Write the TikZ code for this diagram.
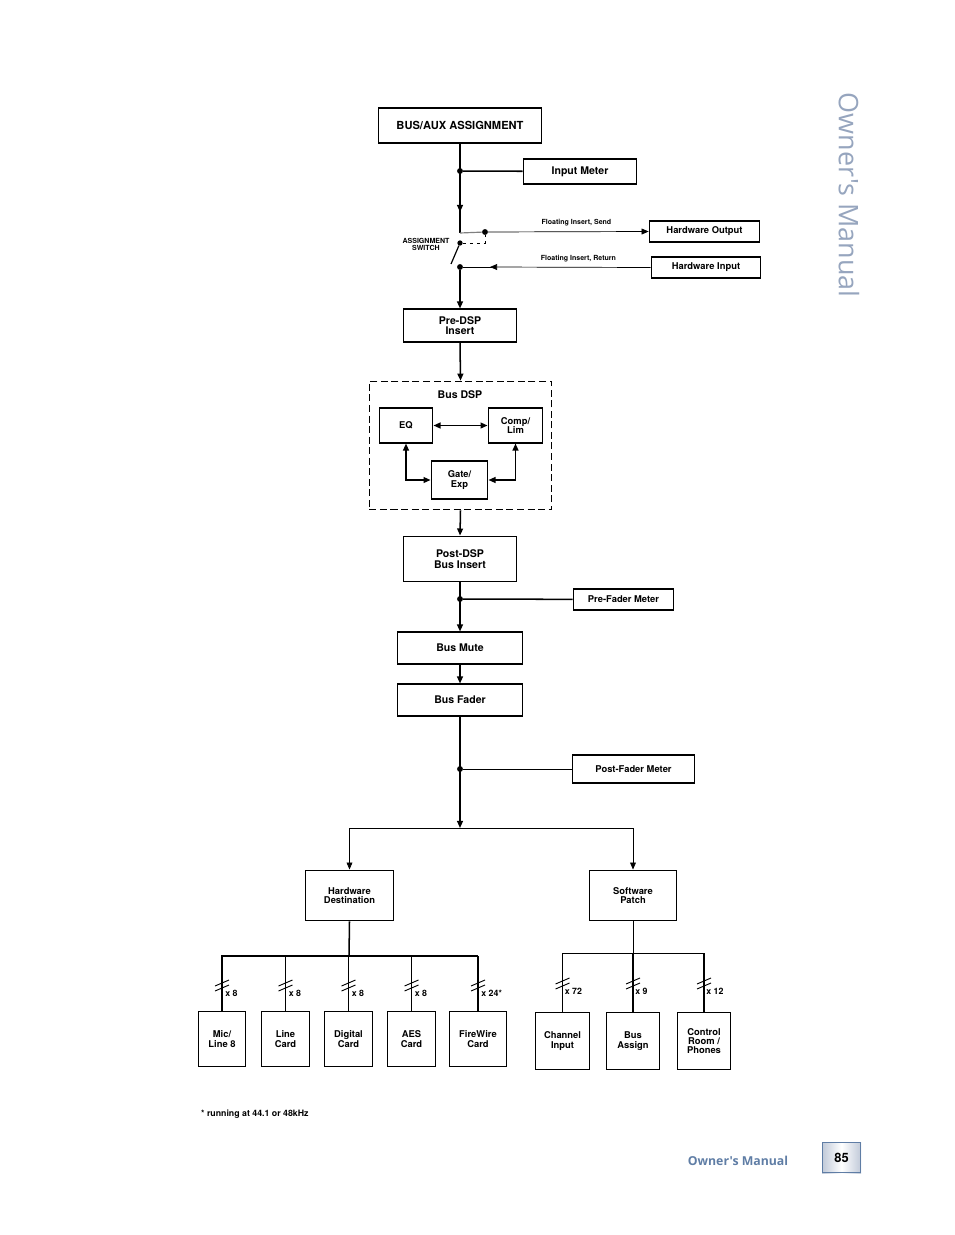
\documentclass[tikz,border=0pt]{standalone}
\usepackage{fontspec}
\setmainfont{TeX Gyre Heros}
\newfontfamily\manualfont{Open Sans}
\usetikzlibrary{arrows.meta,positioning,calc}
\definecolor{manualblue}{RGB}{150,165,190}
\definecolor{footblue}{RGB}{95,125,165}
\tikzset{
	>={Triangle[length=6pt,width=5pt]},
	box/.style={draw, line width=1pt, align=center, font=\bfseries\fontsize{#1}{#1}\selectfont,
			inner sep=0pt, minimum height=20pt},
	box/.default=8,
	wire/.style={line width=1.3pt},
	thin wire/.style={line width=0.6pt},
	dot/.style={circle, fill, inner sep=0pt, minimum size=5pt},
	lbl/.style={font=\bfseries\fontsize{6}{6}\selectfont},
	cnt/.style={font=\bfseries\fontsize{7.5}{7.5}\selectfont, anchor=west, inner sep=1pt}
}
\newcommand{\hashmark}[1]{%
	\draw[line width=0.8pt] ($(#1)+(-7,3)$) -- ($(#1)+(7,-3)$);
	\draw[line width=0.8pt] ($(#1)+(-7,8)$) -- ($(#1)+(7,2)$);}
\begin{document}
\begin{tikzpicture}[x=0.03cm,y=-0.03cm]
	\useasboundingbox (0,0) rectangle (954,1235);

	% top section
	\node[box=9.5, minimum width=164*0.85pt, minimum height=35*0.85pt] (busaux) at (460,125.5) {BUS/AUX ASSIGNMENT};
	\node[box=9, minimum width=114*0.85pt, minimum height=25*0.85pt] (inmeter) at (580,171.5) {Input Meter};
	\node[dot] (d1) at (460,171) {};
	\draw[wire] (d1) -- (inmeter);
	\coordinate (swtop) at (460,233);
	\draw[wire,->] (busaux.south) -- (460,212);
	\draw[wire] (460,205) -- (swtop);

	% assignment switch
	\node[dot] (send) at (485,232) {};
	\node[dot, minimum size=4.5pt] (pivot) at (460,243) {};
	\node[dot] (ret) at (460,267) {};
	\draw[line width=1pt, gray] (swtop) -- (send);
	\draw[line width=0.8pt, dashed] (pivot) -- (485,243) -- (send);
	\draw[line width=1pt] (pivot) -- (451,264);
	\node[lbl, align=center] (swlbl) at (426,244) {ASSIGNMENT\\SWITCH};
	\node[box=8, minimum width=111*0.85pt, minimum height=21*0.85pt] (hwout) at (704.5,231.5) {Hardware Output};
	\node[box=8, minimum width=110*0.85pt, minimum height=21*0.85pt] (hwin) at (706,267.5) {Hardware Input};
	\draw[thin wire,->] (send) -- (hwout.west) node[lbl, pos=0.55, above=1pt] {Floating Insert, Send};
	\draw[thin wire,->] (hwin.west) -- (490,267) node[lbl, pos=0.45, above=1pt] {Floating Insert, Return};
	\draw[thin wire] (492,267) -- (ret);

	% inserts and dsp
	\node[box=9, minimum width=114*0.85pt, minimum height=33*0.85pt] (predsp) at (460,325.5) {Pre-DSP\\Insert};
	\draw[wire,->] (ret) -- (predsp.north);
	\node[draw, line width=1pt, dash pattern=on 6pt off 3pt, minimum width=183*0.85pt, minimum height=129*0.85pt] (dsp) at (460.5,445.5) {};
	\node[font=\bfseries\fontsize{9}{9}\selectfont] at (460,395) {Bus DSP};
	\draw[wire,->] (predsp.south) -- (dsp.north);
	\node[box=8, minimum width=54*0.85pt, minimum height=35*0.85pt] (eq) at (406,425.5) {EQ};
	\node[box=8, minimum width=55*0.85pt, minimum height=35*0.85pt] (comp) at (515.5,425.5) {Comp/\\Lim};
	\node[box=8, minimum width=57*0.85pt, minimum height=38*0.85pt] (gate) at (459.5,480) {Gate/\\Exp};
	\draw[wire,<->] (eq) -- (comp);
	\draw[wire,<->] (eq.south) |- (gate.west);
	\draw[wire,<->] (comp.south) |- (gate.east);

	\node[box=9, minimum width=114*0.85pt, minimum height=46*0.85pt] (postdsp) at (460,559) {Post-DSP\\Bus Insert};
	\draw[wire,->] (dsp.south) -- (postdsp.north);
	\node[box=8, minimum width=101*0.85pt, minimum height=21*0.85pt] (premeter) at (623.5,599.5) {Pre-Fader Meter};
	\node[dot] (d2) at (460,599) {};
	\draw[wire] (d2) -- (premeter);
	\node[box=9, minimum width=126*0.85pt, minimum height=32*0.85pt] (mute) at (460,648) {Bus Mute};
	\node[box=9, minimum width=126*0.85pt, minimum height=32*0.85pt] (fader) at (460,700) {Bus Fader};
	\draw[wire,->] (postdsp.south) -- (mute.north);
	\draw[wire,->] (mute.south) -- (fader.north);
	\node[box=8, minimum width=123*0.85pt, minimum height=28*0.85pt] (postmeter) at (633.5,769) {Post-Fader Meter};
	\node[dot] (d3) at (460,769) {};
	\draw[thin wire] (d3) -- (postmeter);
	\coordinate (split) at (460,828);
	\draw[wire,->] (fader.south) -- (split);

	% destinations
	\node[box=8, minimum width=89*0.85pt, minimum height=51*0.85pt] (hwdest) at (349.5,895.5) {Hardware\\Destination};
	\node[box=8, minimum width=88*0.85pt, minimum height=51*0.85pt] (swpatch) at (633,895.5) {Software\\Patch};
	\draw[thin wire,->] (split) -| (hwdest.north);
	\draw[thin wire,->] (split) -| (swpatch.north);

	% hardware outputs
	\coordinate (hwbus) at (349,956);
	\draw[wire] (hwdest.south) -- (hwbus);
	\draw[wire] (221,956) -- (478,956);
	\foreach \name/\x/\w/\txt/\n in {mic/222/48/{Mic/\\Line 8}/x 8, line/285.5/49/{Line\\Card}/x 8,
			digital/348.5/49/{Digital\\Card}/x 8, aes/411.5/49/{AES\\Card}/x 8, fw/478/58/{FireWire\\Card}/x 24*}{
		\node[box=8, minimum width=\w*0.85pt, minimum height=56*0.85pt] (\name) at (\x,1039) {\txt};
		\draw[wire] (\name.north) -- (\x,956);
		\hashmark{\x,983}
		\node[cnt] at (\x+2,993) {\n};
	}

	% software outputs
	\draw[thin wire] (swpatch.south) -- (633,953);
	\draw[thin wire] (563,953) -- (704,953);
	\foreach \name/\x/\w/\txt/\n in {chan/562.5/55/{Channel\\Input}/x 72, busas/633/54/{Bus\\Assign}/x 9,
			ctrl/704/54/{Control\\Room /\\Phones}/x 12}{
		\node[box=8, minimum width=\w*0.85pt, minimum height=57*0.85pt] (\name) at (\x,1041) {\txt};
		\draw[wire] (\name.north) -- (\x,953);
		\hashmark{\x,981}
		\node[cnt] at (\x+1,991) {\n};
	}

	\node[font=\bfseries\fontsize{7.5}{7.5}\selectfont, anchor=west] (note) at (197,1114) {* running at 44.1 or 48kHz};

	% page decoration
	\node[text=manualblue, font=\manualfont\fontsize{23}{23}\selectfont, rotate=-90] (side) at (849,195) {Owner's Manual};
	\node[text=footblue, font=\manualfont\bfseries\fontsize{10.5}{10.5}\selectfont] (foot) at (738,1161) {Owner's Manual};
	\shade[left color=manualblue!60, right color=manualblue!60, middle color=white] (822,1142) rectangle (861,1173);
	\node[draw=footblue, line width=0.8pt, minimum width=39*0.85pt, minimum height=31*0.85pt, font=\bfseries\fontsize{11}{11}\selectfont] (page) at (841.5,1157.5) {85};
\end{tikzpicture}
\end{document}
